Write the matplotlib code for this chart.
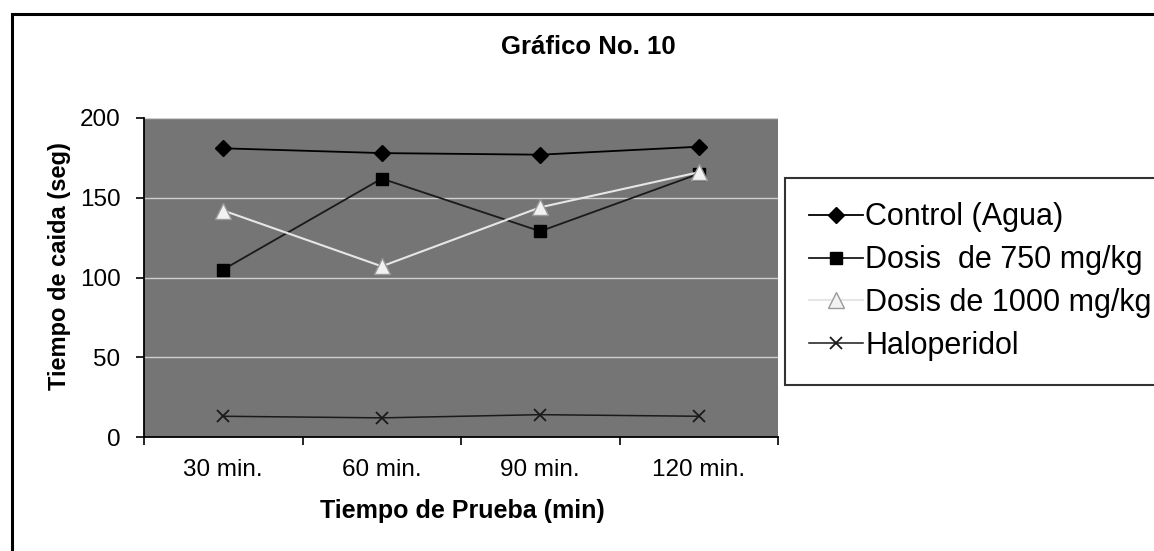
import matplotlib
matplotlib.use('Agg')
import matplotlib.pyplot as plt
import matplotlib.patches as mpatches
import numpy as np

# data
categories = ["30 min.", "60 min.", "90 min.", "120 min."]
control = [181, 178, 177, 182]
dosis_750 = [105, 162, 129, 165]
dosis_1000 = [142, 107, 144, 166]
haloperidol = [13, 12, 14, 13]

plt.rcParams['font.family'] = ['Liberation Sans', 'DejaVu Sans']

W, H = 1154, 551
fig = plt.figure(figsize=(W / 100, H / 100), dpi=100)
fig.patch.set_facecolor('white')

# outer frame of the chart area (cut off at right/bottom)
frame = mpatches.Rectangle((12 / W, -0.05), 1.2, 1 - 14 / H + 0.05,
                           transform=fig.transFigure, fill=False,
                           edgecolor='black', linewidth=2.2, zorder=0)
fig.patches.append(frame)

ax = fig.add_axes([144 / W, 1 - 437 / H, (778 - 144) / W, (437 - 118) / H])
ax.set_facecolor('#757575')

x = np.arange(len(categories))
ax.plot(x, control, '-', color='black', lw=1.3, marker='D', ms=8,
        mfc='black', mec='black', label='Control (Agua)', zorder=4)
ax.plot(x, dosis_750, '-', color='#1a1a1a', lw=1.3, marker='s', ms=9,
        mfc='black', mec='black', label='Dosis  de 750 mg/kg', zorder=3)
ax.plot(x, dosis_1000, '-', color='#e6e6e6', lw=1.5, marker='^', ms=11,
        mfc='#f2f2f2', mec='#9a9a9a', label='Dosis de 1000 mg/kg', zorder=5)
ax.plot(x, haloperidol, '-', color='#1a1a1a', lw=1.1, marker='x', ms=9,
        mew=1.3, label='Haloperidol', zorder=3)

ax.set_xlim(-0.5, 3.5)
ax.set_ylim(0, 200)
ax.set_yticks([0, 50, 100, 150, 200])
ax.yaxis.grid(True, color='#cfcfcf', lw=1.0)
ax.set_axisbelow(True)

ax.set_xticks(x)
ax.set_xticklabels(categories)
ax.set_xticks(np.arange(-0.5, 4.0, 1.0), minor=True)
ax.tick_params(axis='x', which='major', length=0, pad=16, labelsize=17.5)
ax.tick_params(axis='x', which='minor', length=6, width=1.2, direction='out')
ax.tick_params(axis='y', length=6, width=1.2, direction='out', pad=11,
               labelsize=17.5)
for s in ['top', 'right']:
    ax.spines[s].set_visible(False)
ax.spines['left'].set_linewidth(1.3)
ax.spines['bottom'].set_linewidth(1.3)

fig.text(588 / W, 1 - 47 / H, 'Gráfico No. 10', ha='center', va='center',
         fontsize=18.5, fontweight='bold')
fig.text(59.5 / W, 1 - 266 / H, 'Tiempo de caida (seg)', rotation=90,
         ha='center', va='center', fontsize=17, fontweight='bold')
fig.text(462 / W, 1 - 511 / H, 'Tiempo de Prueba (min)', ha='center',
         va='center', fontsize=18, fontweight='bold')

leg = fig.legend(loc='upper left', bbox_to_anchor=(785 / W, 1 - 178 / H, 0.35, 0.0),
                 mode='expand', fontsize=22, frameon=True, fancybox=False,
                 edgecolor='black', handlelength=1.75, handletextpad=0.08,
                 labelspacing=0.42, borderpad=0.8, borderaxespad=0)
leg.get_frame().set_linewidth(1.5)

fig.savefig('out.png', dpi=100)
